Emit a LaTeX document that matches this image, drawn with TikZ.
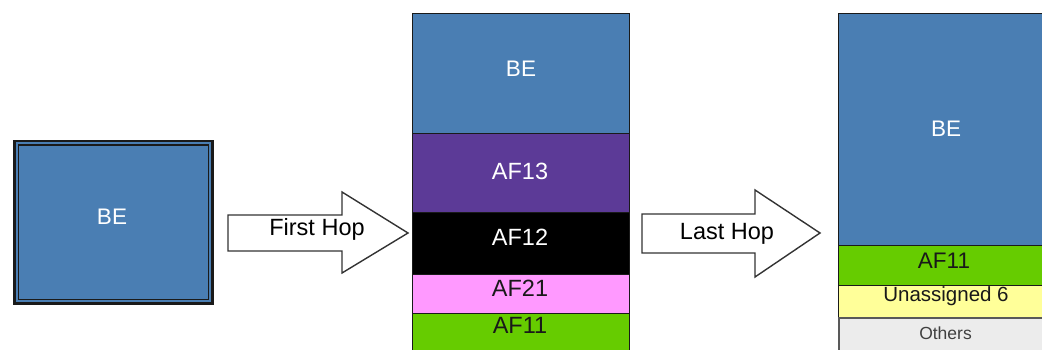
\documentclass[tikz,border=0pt]{standalone}
\usepackage{fontspec}
\setmainfont{Liberation Sans}
\definecolor{beblue}{HTML}{4A7EB3}
\definecolor{afpurple}{HTML}{5C3A97}
\definecolor{afpink}{HTML}{FF99FF}
\definecolor{afgreen}{HTML}{66CC00}
\definecolor{unyellow}{HTML}{FFFF99}
\definecolor{othgrey}{HTML}{ECECEC}
\definecolor{edge}{HTML}{1A1A1A}
\tikzset{
  blk/.style={rectangle, draw=edge, line width=1.4pt, inner sep=0pt, anchor=north west},
  lbl/.style={anchor=base, inner sep=0pt, font=\fontsize{23.5}{27}\selectfont},
  belbl/.style={lbl, text=white, font=\fontsize{22.5}{26}\selectfont},
  hoparrow/.style={draw=black!80, line width=1.4pt, fill=white, line join=miter},
}
\begin{document}
\begin{tikzpicture}[x=1pt, y=-1pt]
\useasboundingbox (0,0) rectangle (1042,350);
\begin{scope}
\clip (0,0) rectangle (1042,350);
% left box
\node[blk, fill=beblue, line width=2.5pt, minimum width=198pt, minimum height=162pt] (src) at (13,140) {};
\node[rectangle, draw=edge, line width=1.5pt, inner sep=0pt, minimum width=190pt, minimum height=154pt] (srcin) at (src.center) {};
\node[belbl] (srcbe) at (112,225) {BE};

% first hop arrow
\draw[hoparrow] (228,215) -- (342,215) -- (342,192) -- (408,233) -- (342,273) -- (342,251) -- (228,251) -- cycle;
\node[lbl] (first) at (317,235) {First Hop};

% middle column
\node[blk, fill=beblue, minimum width=217pt, minimum height=120pt] (mbe) at (412,13) {};
\node[blk, fill=afpurple, minimum width=217pt, minimum height=79pt] (maf13) at (412,133) {};
\node[blk, fill=black, minimum width=217pt, minimum height=62pt] (maf12) at (412,212) {};
\node[blk, fill=afpink, minimum width=217pt, minimum height=39pt] (maf21) at (412,274) {};
\node[blk, fill=afgreen, minimum width=217pt, minimum height=50pt] (maf11) at (412,313) {};
\node[belbl] (tbe) at (521,77) {BE};
\node[lbl, text=white] (t13) at (520,180) {AF13};
\node[lbl, text=white] (t12) at (520,245) {AF12};
\node[lbl, text=black!90] (t21) at (520,296.7) {AF21};
\node[lbl, text=black!90] (t11) at (520,333.3) {AF11};

% last hop arrow
\draw[hoparrow] (642,214) -- (755,214) -- (755,190) -- (820,233) -- (755,277) -- (755,253) -- (642,253) -- cycle;
\node[lbl] (last) at (727,239.3) {Last Hop};

% right column
\node[blk, fill=beblue, minimum width=213pt, minimum height=232pt] (rbe) at (838,13) {};
\node[blk, fill=afgreen, minimum width=213pt, minimum height=40pt] (raf11) at (838,245) {};
\node[blk, fill=unyellow, minimum width=213pt, minimum height=32pt] (run) at (838,285) {};
\node[blk, fill=othgrey, draw=black!65, line width=2pt, minimum width=213pt, minimum height=50pt] (roth) at (838,317) {};
\node[belbl] (rtbe) at (946,136.7) {BE};
\node[lbl, text=black!90, font=\fontsize{22.5}{26}\selectfont] (rt11) at (944,268.3) {AF11};
\node[lbl, text=black!90, font=\fontsize{20.5}{24}\selectfont] (rtun) at (946,301.7) {Unassigned 6};
\node[lbl, text=black!75, font=\fontsize{17.5}{21}\selectfont] (rtoth) at (945.5,339.3) {Others};
\end{scope}
\end{tikzpicture}
\end{document}
